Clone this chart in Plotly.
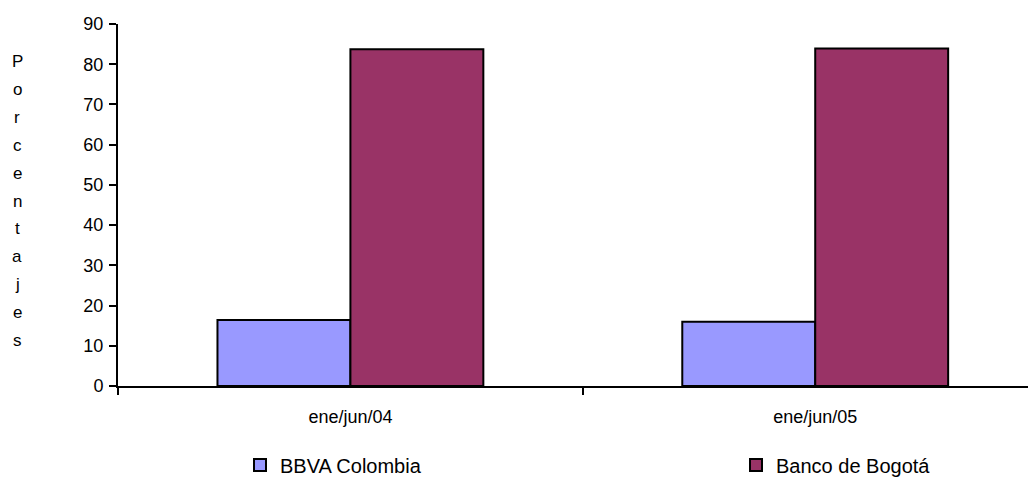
import plotly.graph_objects as go

categories = ["ene/jun/04", "ene/jun/05"]
bbva = [16.4, 16.0]
bogota = [83.7, 83.9]
series_names = ["BBVA Colombia", "Banco de Bogotá"]
y_title = "Porcentajes"

FONT = "Liberation Sans, Arial, sans-serif"
OFF = 8  # page body margin offset of the figure
W, H = 1036 - OFF, 482 - OFF

# desired plot area in page pixels
PX_LEFT, PX_RIGHT, PX_TOP, PX_BOTTOM = 118, 1036, 24, 386
L = PX_LEFT - OFF
T = PX_TOP - OFF
R = W - (PX_RIGHT - OFF)
B = H - (PX_BOTTOM - OFF)
plot_w = W - L - R
plot_h = H - T - B


def px_x(page_x):
    return (page_x - OFF - L) / plot_w


def px_y(page_y):
    return (PX_BOTTOM - page_y) / plot_h


xpos = list(range(len(categories)))

fig = go.Figure()
fig.add_trace(go.Bar(x=xpos, y=bbva, name=series_names[0], legend="legend",
                     marker=dict(color="#9999FF", line=dict(color="black", width=2))))
fig.add_trace(go.Bar(x=xpos, y=bogota, name=series_names[1], legend="legend2",
                     marker=dict(color="#993366", line=dict(color="black", width=2))))

# stacked vertical axis title, one letter per line
y_top_px, step_px = 62, 27.8
for i, ch in enumerate(y_title):
    fig.add_annotation(text=ch, xref="paper", yref="paper",
                       x=px_x(17), y=px_y(y_top_px + i * step_px),
                       xanchor="center", yanchor="middle", showarrow=False,
                       font=dict(family=FONT, size=17, color="black"))

leg_common = dict(orientation="h", xanchor="left", yanchor="middle",
                  y=px_y(465),
                  font=dict(family=FONT, size=20, color="black"),
                  bgcolor="rgba(0,0,0,0)", itemwidth=30)

fig.update_layout(
    width=W, height=H,
    margin=dict(l=L, r=R, t=T, b=B, autoexpand=False),
    paper_bgcolor="white", plot_bgcolor="white",
    barmode="group", bargap=0.428, bargroupgap=0,
    font=dict(family=FONT, size=18, color="black"),
    showlegend=True,
    legend=dict(x=px_x(240), **leg_common),
    legend2=dict(x=px_x(736), **leg_common),
    xaxis=dict(range=[-0.5, 1.475], tickvals=xpos, ticktext=categories,
               ticks="", showgrid=False, zeroline=False, automargin=False,
               showline=True, linecolor="black", linewidth=2,
               ticklabelstandoff=13,
               tickfont=dict(family=FONT, size=18, color="black"),
               minor=dict(tick0=0.5, dtick=1, ticks="outside", ticklen=7,
                          tickcolor="black", tickwidth=2, showgrid=False)),
    yaxis=dict(range=[0, 90], dtick=10, ticks="outside", ticklen=7,
               tickcolor="black", tickwidth=2, showgrid=False, zeroline=False,
               automargin=False, ticklabelstandoff=2,
               showline=True, linecolor="black", linewidth=2,
               tickfont=dict(family=FONT, size=18, color="black")),
)

fig.write_html("out.html")
